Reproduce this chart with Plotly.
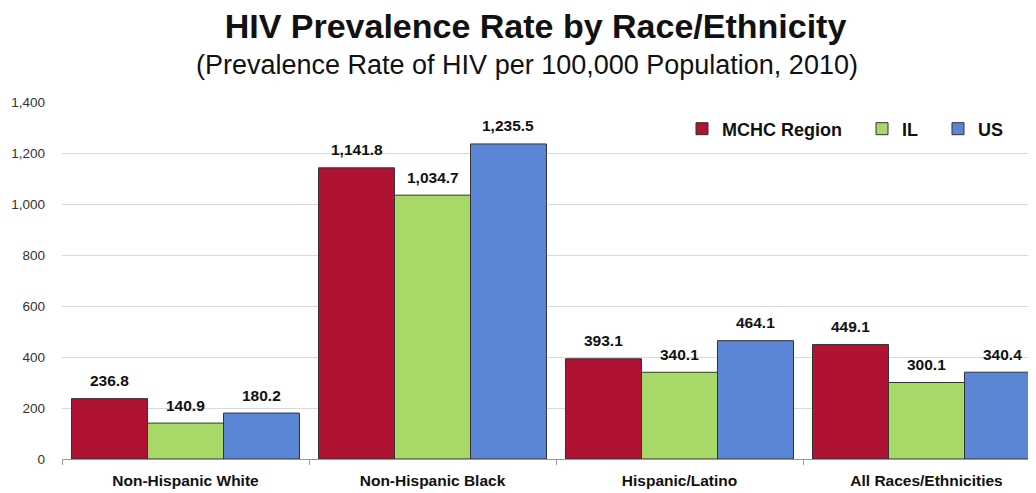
import plotly.graph_objects as go

categories = ["Non-Hispanic White", "Non-Hispanic Black", "Hispanic/Latino", "All Races/Ethnicities"]
series_names = ["MCHC Region", "IL", "US"]
mchc = [236.8, 1141.8, 393.1, 449.1]
il = [140.9, 1034.7, 340.1, 300.1]
us = [180.2, 1235.5, 464.1, 340.4]
colors = ["#B01233", "#A8D868", "#5B86D6"]
y_ticks = [0, 200, 400, 600, 800, 1000, 1200, 1400]

FONT = "Liberation Sans, Arial"
W, H = 1028, 485
ML, MT, MB = 54, 94, 34
PW = W - ML
PH = H - MT - MB
GROUP_PX = 247
BAR_PX = GROUP_PX * (1 - 0.077) / 3

pad = "\u00a0\u00a0\u00a0"
legend_names = [series_names[0] + pad, series_names[1] + pad, series_names[2]]

fig = go.Figure()
annotations = []
for i, (name, vals, col) in enumerate(zip(legend_names, [mchc, il, us], colors)):
    fig.add_trace(go.Bar(
        x=categories, y=vals, name=name,
        marker=dict(color=col, line=dict(color="#333333", width=1)),
        hoverinfo="skip",
    ))
    for c, v in zip(categories, vals):
        annotations.append(dict(
            x=c, y=v, xref="x", yref="y", text=f"<b>{v:,.1f}</b>", showarrow=False,
            xanchor="center", yanchor="middle", xshift=(i - 1) * BAR_PX, yshift=18,
            font=dict(family=FONT, size=15.5, color="#111111"),
        ))

annotations += [
    dict(text="(Prevalence Rate of HIV per 100,000 Population, 2010)", xref="paper", yref="paper",
         x=(519 - ML) / PW, y=(H - MB - 57) / PH, xanchor="center", yanchor="middle",
         showarrow=False, font=dict(family=FONT, size=27, color="#111111")),
]

fig.update_layout(
    width=W, height=H,
    margin=dict(l=ML, r=0, t=MT, b=MB),
    paper_bgcolor="white", plot_bgcolor="white",
    title=dict(text="<b>HIV Prevalence Rate by Race/Ethnicity</b>", x=527.5 / W, xanchor="center",
               y=1 - 18 / H, yanchor="middle", xref="paper",
               font=dict(family=FONT, size=34, color="#111111")),
    barmode="group", bargap=0.077, bargroupgap=0,
    font=dict(family=FONT, color="#222222"),
    showlegend=True,
    legend=dict(orientation="h", x=(674 - ML) / PW, xanchor="left",
                y=(H - MB - 121) / PH, yanchor="middle",
                font=dict(size=18, color="#111111", weight="bold"),
                bgcolor="rgba(0,0,0,0)", itemwidth=30, traceorder="normal"),
    annotations=annotations,
)
fig.update_layout(title_xref="container")
fig.update_xaxes(range=[-0.5, -0.5 + PW / GROUP_PX], showline=True, linecolor="#999999", linewidth=1,
                 ticks="outside", tickson="boundaries", ticklen=5, tickcolor="#999999",
                 ticklabelstandoff=7,
                 tickfont=dict(size=15.5, color="#111111", weight="bold"), showgrid=False)
fig.update_yaxes(range=[0, 1400], tickvals=y_ticks, tickformat=",", showgrid=True,
                 gridcolor="#D9D9D9", gridwidth=1, zeroline=False, showline=False,
                 ticks="", tickfont=dict(size=13.5, color="#333333"), ticklabelstandoff=16)

fig.write_html("out.html")
